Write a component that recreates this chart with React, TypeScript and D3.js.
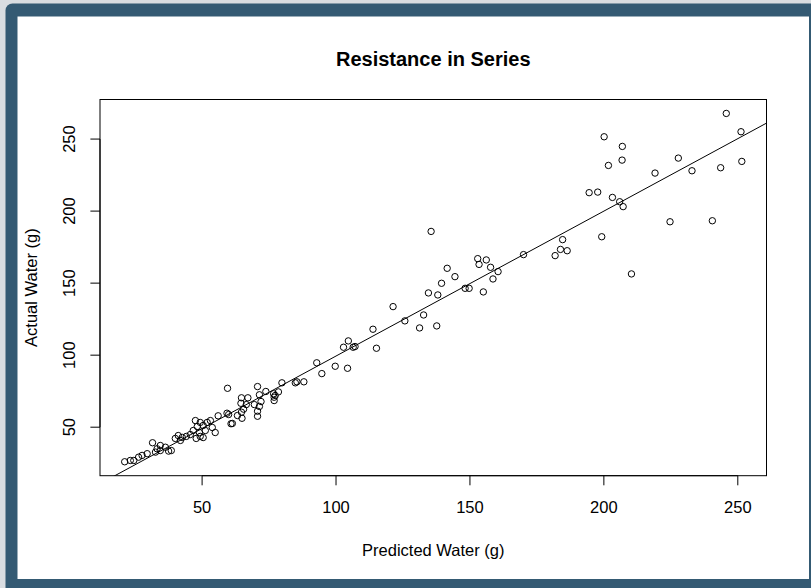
import React from "react";
import * as d3 from "d3";

const predicted = [
  245.7, 251.2, 251.5, 200.1, 206.9, 206.8, 201.7, 227.8, 219.1, 232.9,
  243.6, 194.5, 197.7, 203.2, 205.9, 207.2, 224.7, 240.5, 199.2, 210.3,
  135.5, 184.6, 183.8, 186.3, 181.8, 170.0, 152.9, 156.1, 153.4, 157.7,
  141.5, 160.5, 144.4, 158.6, 139.4, 125.7, 131.2, 137.6, 132.7, 134.5,
  138.0, 148.2, 149.7, 155.0,
  121.3, 113.8, 115.1, 104.6, 102.8, 106.4, 107.1, 104.3, 99.7, 94.7,
  92.8, 88.0, 84.8, 85.4, 79.8, 78.5, 76.7, 76.9, 76.9, 77.3,
  73.8, 70.7, 71.4, 72.0, 71.4, 70.7, 70.7, 59.5, 64.7, 67.1,
  64.5, 66.5, 69.5, 65.5, 64.7, 63.2, 64.9, 59.3, 59.9, 60.8,
  61.3, 56.0,
  47.5, 49.3, 48.2, 50.4, 46.7, 49.0, 51.2, 49.3, 47.8, 51.9,
  53.8, 53.1, 45.6, 50.4, 44.1, 54.9,
  41.1, 41.9, 40.0, 42.6, 37.5, 36.3, 34.4, 33.2, 32.6, 31.5,
  29.5, 27.6, 26.3, 24.5, 23.2, 21.1, 38.5, 34.4,
];

const actual = [
  267.8, 255.1, 234.5, 251.6, 244.9, 235.4, 231.7, 236.8, 226.4, 228.0,
  230.1, 212.8, 213.2, 209.5, 206.5, 203.1, 192.6, 193.3, 182.2, 156.4,
  185.9, 180.2, 173.4, 172.5, 169.1, 169.8, 167.0, 166.1, 163.0, 161.0,
  160.3, 158.0, 154.5, 152.9, 149.9, 123.8, 118.9, 120.3, 127.9, 143.2,
  141.8, 146.4, 146.4, 143.9,
  133.7, 118.0, 104.8, 109.9, 105.5, 105.5, 106.0, 90.9, 92.3, 87.2,
  94.7, 81.5, 80.8, 81.5, 80.8, 74.5, 73.2, 70.8, 68.5, 72.0,
  74.8, 78.2, 72.5, 67.8, 64.4, 61.1, 57.6, 77.0, 70.4, 70.4,
  66.6, 65.7, 65.7, 62.5, 60.4, 58.1, 56.2, 59.7, 58.8, 52.4,
  52.6, 57.9,
  54.6, 53.3, 50.5, 51.2, 47.7, 46.3, 47.7, 43.6, 42.2, 53.3,
  49.8, 54.6, 44.9, 42.8, 43.6, 46.3,
  44.2, 40.8, 42.2, 42.9, 33.4, 36.1, 37.3, 35.0, 32.7, 39.2,
  31.6, 30.4, 29.2, 26.9, 26.9, 26.0, 33.8, 33.8,
];

const xTicks = [50, 100, 150, 200, 250];
const yTicks = [50, 100, 150, 200, 250];
const fitLine = [-1.2, 1.006]; // intercept, slope

const title = "Resistance in Series";
const xLabel = "Predicted Water (g)";
const yLabel = "Actual Water (g)";

const W = 811;
const H = 588;
const plot = { left: 100, right: 766.5, top: 99.5, bottom: 475.7 };
const FONT = "'Liberation Sans', Arial, sans-serif";

function rDomain(vals: number[]): [number, number] {
  const [a, b] = d3.extent(vals) as [number, number];
  const r = b - a;
  return [a - 0.04 * r, b + 0.04 * r];
}

export default function App() {
  const x = d3.scaleLinear().domain(rDomain(predicted)).range([plot.left, plot.right]);
  const y = d3.scaleLinear().domain(rDomain(actual)).range([plot.bottom, plot.top]);
  const [x0, x1] = x.domain();
  const line = d3.line<number>().x((d) => x(d)).y((d) => y(fitLine[0] + fitLine[1] * d));
  const tick = 9.6;
  const cx = (plot.left + plot.right) / 2;
  const cy = (plot.top + plot.bottom) / 2;
  const fs = 16.5;

  return (
    <svg
      width={W}
      height={H}
      style={{ position: "absolute", left: 0, top: 0, display: "block" }}
      fontFamily={FONT}
    >
      <defs>
        <clipPath id="plotclip">
          <rect x={plot.left} y={plot.top} width={plot.right - plot.left} height={plot.bottom - plot.top} />
        </clipPath>
      </defs>
      <rect x={0} y={0} width={W} height={H} fill="#d9dde1" />
      <rect x={5.5} y={3.5} width={W + 10} height={H + 10} rx={7} fill="#345a73" />
      <rect x={17.5} y={16.5} width={809 - 17.5} height={579 - 16.5} fill="#ffffff" />

      <text x={cx} y={66} textAnchor="middle" fontWeight="bold" fontSize={20} fill="#000">
        {title}
      </text>

      <rect
        x={plot.left}
        y={plot.top}
        width={plot.right - plot.left}
        height={plot.bottom - plot.top}
        fill="none"
        stroke="#000"
        strokeWidth={1}
      />

      {/* x axis */}
      <line x1={x(xTicks[0])} x2={x(xTicks[xTicks.length - 1])} y1={plot.bottom} y2={plot.bottom} stroke="#000" />
      {xTicks.map((t) => (
        <g key={"x" + t}>
          <line x1={x(t)} x2={x(t)} y1={plot.bottom} y2={plot.bottom + tick} stroke="#000" />
          <text x={x(t)} y={512.5} textAnchor="middle" fontSize={fs} fill="#000">
            {t}
          </text>
        </g>
      ))}
      <text x={cx} y={556} textAnchor="middle" fontSize={fs} fill="#000">
        {xLabel}
      </text>

      {/* y axis */}
      <line x1={plot.left} x2={plot.left} y1={y(yTicks[0])} y2={y(yTicks[yTicks.length - 1])} stroke="#000" />
      {yTicks.map((t) => (
        <g key={"y" + t}>
          <line x1={plot.left - tick} x2={plot.left} y1={y(t)} y2={y(t)} stroke="#000" />
          <text
            transform={`translate(75,${y(t)}) rotate(-90)`}
            textAnchor="middle"
            fontSize={fs}
            fill="#000"
          >
            {t}
          </text>
        </g>
      ))}
      <text transform={`translate(37,${cy}) rotate(-90)`} textAnchor="middle" fontSize={fs} fill="#000">
        {yLabel}
      </text>

      <g clipPath="url(#plotclip)">
        <path d={line([x0, x1]) || ""} fill="none" stroke="#000" strokeWidth={1} />
      </g>

      {predicted.map((p, i) => (
        <circle key={i} cx={x(p)} cy={y(actual[i])} r={3.2} fill="none" stroke="#000" strokeWidth={1} />
      ))}
    </svg>
  );
}
